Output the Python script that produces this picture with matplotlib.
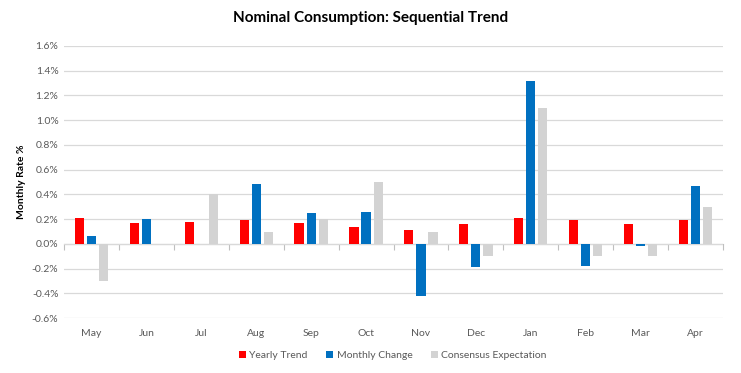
import numpy as np
import matplotlib.pyplot as plt
from matplotlib.ticker import FuncFormatter

months = ['May', 'Jun', 'Jul', 'Aug', 'Sep', 'Oct', 'Nov', 'Dec', 'Jan', 'Feb', 'Mar', 'Apr']
yearly_trend = [0.21, 0.17, 0.18, 0.19, 0.17, 0.14, 0.11, 0.16, 0.21, 0.19, 0.16, 0.19]
monthly_change = [0.065, 0.20, 0.0, 0.48, 0.25, 0.26, -0.42, -0.19, 1.32, -0.18, -0.02, 0.47]
consensus = [-0.30, 0.0, 0.40, 0.10, 0.20, 0.50, 0.10, -0.10, 1.10, -0.10, -0.10, 0.30]

plt.rcParams['font.family'] = ['Lato', 'DejaVu Sans']

fig = plt.figure(figsize=(7.41, 3.73), dpi=100)
ax = fig.add_axes([0.0864, 0.147, 0.8893, 0.73])

x = np.arange(len(months))
w = 0.166
step = 0.22
ax.bar(x - step, yearly_trend, w, color='#ff0000', label='Yearly Trend', zorder=3)
ax.bar(x, monthly_change, w, color='#0070c0', label='Monthly Change', zorder=3)
ax.bar(x + step, consensus, w, color='#d3d3d3', label='Consensus Expectation', zorder=3)

ymin, ymax = -0.6, 1.6
ax.set_ylim(ymin, ymax)
ax.set_xlim(-0.5, len(months) - 0.5)
ax.set_yticks(np.arange(-0.6, 1.61, 0.2))
ax.yaxis.set_major_formatter(FuncFormatter(lambda v, p: f'{v:.1f}%'))
ax.grid(axis='y', color='#d9d9d9', linewidth=0.9, zorder=0)
ax.set_xticks(x)
ax.set_xticklabels(months)
ax.tick_params(axis='both', length=0, labelsize=7.5, labelcolor='#595959')
ax.tick_params(axis='x', pad=8)
ax.tick_params(axis='y', pad=4)
for s in ax.spines.values():
    s.set_visible(False)

# category axis crossing at zero with boundary ticks
zero_ax = ax.secondary_xaxis((0 - ymin) / (ymax - ymin))
zero_ax.set_xticks(np.arange(-0.5, len(months), 1.0))
zero_ax.set_xticklabels([])
zero_ax.tick_params(length=4, color='#bfbfbf', width=0.8)
zero_ax.spines['bottom'].set_color('#bfbfbf')
zero_ax.spines['bottom'].set_linewidth(0.8)

ax.set_ylabel('Monthly Rate %', fontsize=7.5, fontweight='bold', labelpad=4)
fig.suptitle('Nominal Consumption: Sequential Trend', fontsize=11, fontweight='bold',
             y=0.97)

fig.legend(loc='lower center', bbox_to_anchor=(0.53, 0.01), ncol=3, frameon=False,
           fontsize=7.5, handlelength=0.7, handleheight=0.7, handletextpad=0.3,
           columnspacing=1.8, labelcolor='#595959')

fig.savefig('out.png', dpi=100)
